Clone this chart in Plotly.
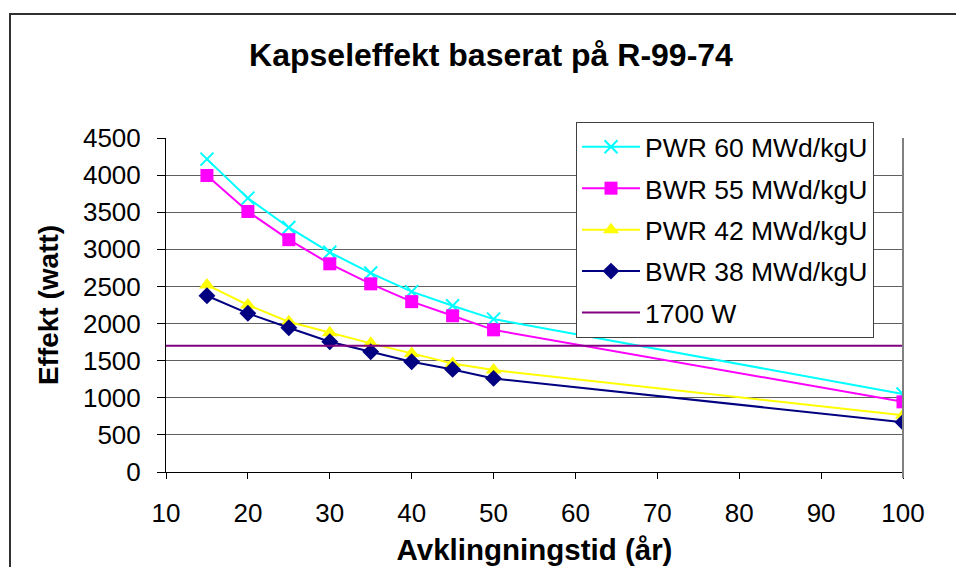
import plotly.graph_objects as go

years = [15, 20, 25, 30, 35, 40, 45, 50, 100]
pwr60 = [4215, 3690, 3295, 2960, 2680, 2430, 2240, 2060, 1050]
bwr55 = [3995, 3510, 3130, 2805, 2535, 2295, 2105, 1915, 945]
pwr42 = [2520, 2250, 2025, 1875, 1733, 1598, 1463, 1373, 765]
bwr38 = [2375, 2138, 1944, 1755, 1620, 1485, 1382, 1261, 670]
limit_x = [10, 100]
limit_y = [1700, 1700]

names = ["PWR 60 MWd/kgU", "BWR 55 MWd/kgU", "PWR 42 MWd/kgU", "BWR 38 MWd/kgU", "1700 W"]
x_ticks = [10, 20, 30, 40, 50, 60, 70, 80, 90, 100]
y_ticks = [0, 500, 1000, 1500, 2000, 2500, 3000, 3500, 4000, 4500]

FONT = "Liberation Sans, Arial, sans-serif"

fig = go.Figure()
fig.add_trace(go.Scatter(x=years, y=pwr60, name=names[0], legendgroup="a", mode="lines+markers",
                         line=dict(color="#00FFFF", width=2),
                         marker=dict(symbol="x-thin-open", size=13, line=dict(color="#00FFFF", width=2))))
fig.add_trace(go.Scatter(x=years, y=bwr55, name=names[1], legendgroup="b", mode="lines+markers",
                         line=dict(color="#FF00FF", width=2),
                         marker=dict(symbol="square", size=13, color="#FF00FF")))
fig.add_trace(go.Scatter(x=years, y=pwr42, name=names[2], legendgroup="c", mode="lines+markers",
                         line=dict(color="#FFFF00", width=2),
                         marker=dict(symbol="triangle-up", size=14, color="#FFFF00")))
fig.add_trace(go.Scatter(x=years, y=bwr38, name=names[3], legendgroup="d", mode="lines+markers",
                         line=dict(color="#000080", width=2),
                         marker=dict(symbol="diamond", size=13, color="#000080")))
fig.add_trace(go.Scatter(x=limit_x, y=limit_y, name=names[4], legendgroup="e", mode="lines",
                         line=dict(color="#800080", width=2)))

# page body has an 8px margin; the figure is offset by it
OX, OY = 8, 8
W, H = 964 - OX, 567 - OY
L, R = 166 - OX, 964 - 903
T, B = 138 - OY, 567 - 472
pw, ph = W - L - R, H - T - B

def px2paper_x(p):
    return (p - OX - L) / pw

def px2paper_y(p):
    return (H - B - (p - OY)) / ph

fig.update_layout(
    width=W, height=H,
    margin=dict(l=L, r=R, t=T, b=B, autoexpand=False),
    paper_bgcolor="white", plot_bgcolor="white",
    font=dict(family=FONT, color="black"),
    title=dict(text="<b>Kapseleffekt baserat på R-99-74</b>", x=(491 - OX) / W, xref="container",
               xanchor="center", y=1 - (55 - OY) / H, yref="container", yanchor="middle",
               font=dict(size=32, family=FONT)),
    showlegend=True,
    legend=dict(x=px2paper_x(576), y=px2paper_y(122), xanchor="left", yanchor="top",
                bgcolor="white", bordercolor="#404040", borderwidth=1, itemwidth=58,
                font=dict(size=26.5, family=FONT), tracegroupgap=4, traceorder="grouped"),
    xaxis=dict(range=[10, 100], tickvals=x_ticks, ticktext=[str(v) for v in x_ticks], automargin=False,
               ticks="outside", ticklen=6, tickcolor="black", showline=True, linecolor="black", linewidth=1,
               showgrid=False, zeroline=False, tickfont=dict(size=26, family=FONT), ticklabelstandoff=12,
               title=dict(text="<b>Avklingningstid (år)</b>", font=dict(size=29.5, family=FONT), standoff=12)),
    yaxis=dict(range=[0, 4500], tickvals=y_ticks, ticks="outside", ticklen=8, tickcolor="black", automargin=False,
               showline=True, linecolor="black", linewidth=1, showgrid=True, gridcolor="#606060", gridwidth=1,
               zeroline=False, tickfont=dict(size=26, family=FONT), ticklabelstandoff=11,
               title=dict(text="<b>Effekt (watt)</b>", font=dict(size=28, family=FONT), standoff=16)),
    shapes=[
        dict(type="line", xref="paper", yref="paper", x0=1, x1=1, y0=px2paper_y(478), y1=1,
             line=dict(color="#808080", width=2)),
        dict(type="rect", xref="paper", yref="paper", x0=px2paper_x(10), x1=px2paper_x(1100),
             y0=px2paper_y(700), y1=px2paper_y(14), line=dict(color="#303030", width=2), layer="below"),
    ],
)

fig.write_html("out.html")
